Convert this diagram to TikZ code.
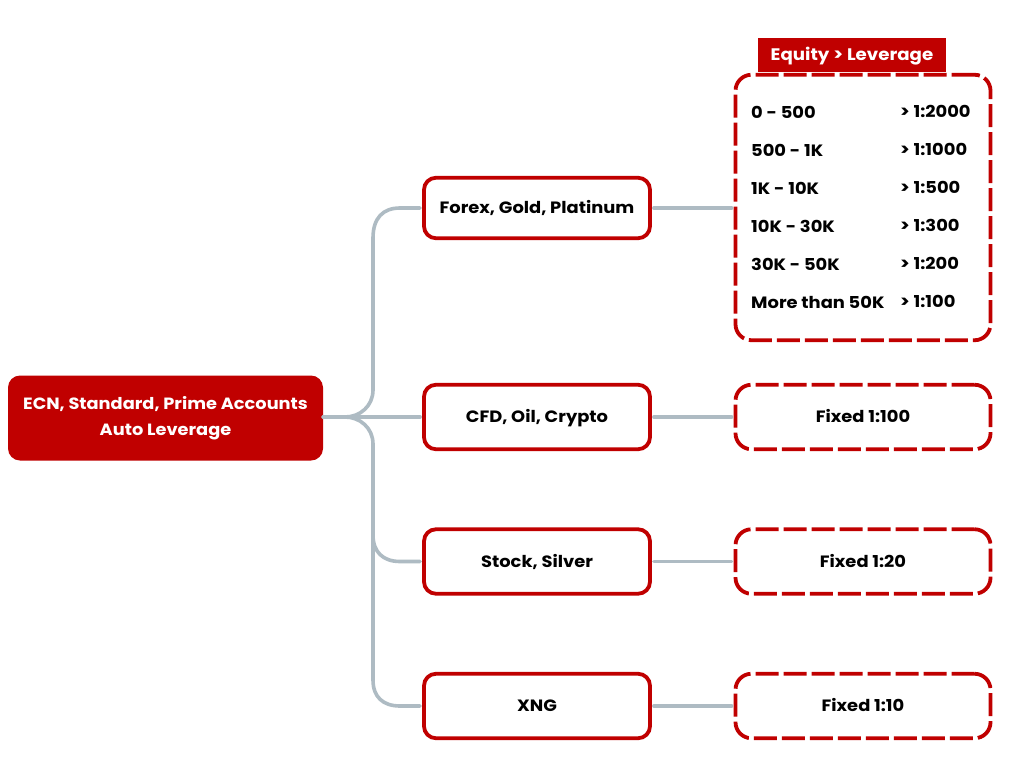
\documentclass[tikz,border=0pt]{standalone}
\usepackage{fontspec}
\setmainfont{Poppins}[FakeStretch=1.09]
\definecolor{brandred}{HTML}{C00000}
\definecolor{linkgray}{HTML}{AEBBC3}
\tikzset{
  x=1pt,y=-1pt,
  txt/.style={font=\fontsize{16.4}{26}\selectfont\bfseries,text=black},
  rootbox/.style={fill=brandred,draw=none,rounded corners=12pt,minimum width=315pt,minimum height=85pt,inner sep=0pt,align=center,text=white,font=\fontsize{16.3}{26}\selectfont\bfseries},
  midbox/.style={draw=brandred,line width=3.8pt,fill=white,rounded corners=12pt,minimum width=226pt,inner sep=0pt,text height=15.2pt,text depth=4pt,txt},
  dashbox/.style={draw=brandred,line width=3.8pt,fill=white,rounded corners=16pt,minimum width=255pt,inner sep=0pt,dash pattern=on 23pt off 5pt,text height=15.2pt,text depth=4pt,txt},
  headbox/.style={fill=brandred,draw=none,minimum width=188pt,minimum height=34pt,inner sep=0pt,text height=15pt,text depth=4pt,text=white,font=\fontsize{16.7}{20}\selectfont\bfseries},
  rowtxt/.style={anchor=base west,inner sep=0pt,txt},
  link/.style={draw=linkgray,line width=3.6pt,line cap=round},
}
\begin{document}
\begin{tikzpicture}
\useasboundingbox (0,0) rectangle (1024,768);
\fill[white] (0,0) rectangle (1024,768);
\node[rootbox] (root) at (165.5,418) {ECN, Standard, Prime Accounts\\Auto Leverage};
\node[midbox,minimum height=60.5pt] (m1) at (537,208) {Forex, Gold, Platinum};
\node[midbox,minimum height=64.5pt] (m2) at (537,417) {CFD, Oil, Crypto};
\node[midbox,minimum height=64.5pt] (m3) at (537,561.5) {Stock, Silver};
\node[midbox,minimum height=64.5pt] (m4) at (537,706) {XNG};
\node[dashbox,minimum height=265.5pt] (r1) at (863,207.5) {};
\node[dashbox,minimum height=64.5pt] (r2) at (863,417) {Fixed 1:100};
\node[dashbox,minimum height=64.5pt] (r3) at (863,561.5) {Fixed 1:20};
\node[dashbox,minimum height=64.5pt] (r4) at (863,706) {Fixed 1:10};
\node[headbox] (head) at (852,55) {Equity > Leverage};
\node[rowtxt] (a1) at (751,118) {0 - 500};
\node[rowtxt] (a2) at (751,156) {500 - 1K};
\node[rowtxt] (a3) at (751,194) {1K - 10K};
\node[rowtxt] (a4) at (751,232) {10K - 30K};
\node[rowtxt] (a5) at (751,270) {30K - 50K};
\node[rowtxt] (a6) at (751,308) {More than 50K};
\node[rowtxt] (b1) at (900,117) {> 1:2000};
\node[rowtxt] (b2) at (900,155) {> 1:1000};
\node[rowtxt] (b3) at (900,193) {> 1:500};
\node[rowtxt] (b4) at (900,231) {> 1:300};
\node[rowtxt] (b5) at (900,269) {> 1:200};
\node[rowtxt] (b6) at (900,307) {> 1:100};
\coordinate (hub) at (345,417);
\begin{scope}[shorten >=2pt]
\draw[link] (root.east |- hub) -- (m2.west);
\draw[link] (root.east |- hub) -- (hub) .. controls (360,417) and (373,406) .. (373,390) -- (373,238) .. controls (373,218) and (383,208) .. (400,208) -- (m1.west);
\draw[link] (root.east |- hub) -- (hub) .. controls (360,417) and (373,428) .. (373,444) -- (373,535) .. controls (373,552) and (383,561.5) .. (400,561.5) -- (m3.west);
\draw[link] (373,535) -- (373,680) .. controls (373,697) and (383,706) .. (400,706) -- (m4.west);
\end{scope}
\begin{scope}[shorten >=2pt,shorten <=2pt]
\draw[link] (m1.east) -- (m1.east -| r1.west);
\draw[link] (m2.east) -- (r2.west);
\draw[link] (m3.east) -- (r3.west);
\draw[link] (m4.east) -- (r4.west);
\end{scope}
\end{tikzpicture}
\end{document}
